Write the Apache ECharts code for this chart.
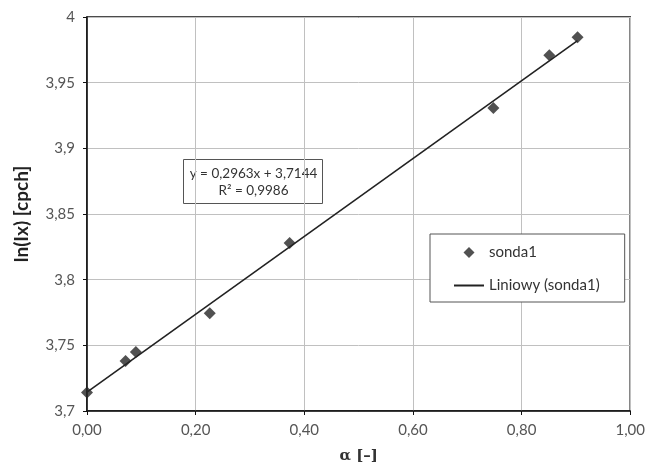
<!DOCTYPE html>
<html>
<head>
<meta charset="utf-8">
<script src="https://cdn.jsdelivr.net/npm/echarts@6/dist/echarts.min.js"></script>
<style>
  html, body { margin: 0; padding: 0; background: #fff; }
  #chart { width: 648px; height: 469px; }
</style>
</head>
<body>
<div id="chart"></div>
<script>
// pomiary sonda1 (odczyt z wykresu)
var alphaValues = [0.00, 0.071, 0.090, 0.226, 0.373, 0.748, 0.851, 0.903];
var lnIxValues = [3.714, 3.738, 3.745, 3.7745, 3.828, 3.9307, 3.9708, 3.9845];
// linia trendu - poczatek i koniec
var trendX = [0.00, 0.903];
var trendY = [3.7144, 3.982];
// osie
var xAxisRange = [0, 1, 0.2];
var yAxisRange = [3.7, 4, 0.05];
var equationText = ['y = 0,2963x + 3,7144', 'R² = 0,9986'];

var font = 'Lato, "Open Sans", sans-serif';
var chart = echarts.init(document.getElementById('chart'));

var pts = alphaValues.map(function (a, i) { return [a, lnIxValues[i]]; });
var trend = trendX.map(function (a, i) { return [a, trendY[i]]; });

var option = {
  animation: false,
  backgroundColor: '#fff',
  grid: {
    left: 87, right: 15, top: 17, bottom: 58,
    show: true, borderColor: '#111', borderWidth: 1.5
  },
  xAxis: {
    type: 'value',
    min: xAxisRange[0], max: xAxisRange[1], interval: xAxisRange[2],
    name: 'α [–]',
    nameLocation: 'middle',
    nameGap: 38,
    nameTextStyle: { fontFamily: '"DejaVu Serif", serif', fontWeight: 'bold', fontSize: 15, color: '#333' },
    axisLine: { lineStyle: { color: '#111', width: 1.5 } },
    axisTick: { show: true, length: 4, lineStyle: { color: '#111' } },
    axisLabel: {
      margin: 12, color: '#555', fontSize: 15, fontFamily: font,
      formatter: function (v) { return v.toFixed(2).replace('.', ','); }
    },
    splitLine: { lineStyle: { color: '#c0c0c0', width: 1 } }
  },
  yAxis: {
    type: 'value',
    min: yAxisRange[0], max: yAxisRange[1], interval: yAxisRange[2],
    name: 'ln(Ix) [cpch]',
    nameLocation: 'middle',
    nameGap: 56,
    nameTextStyle: { fontFamily: font, fontWeight: 'bold', fontSize: 19, color: '#222' },
    axisLine: { show: true, lineStyle: { color: '#111', width: 1.5 } },
    axisTick: { show: true, length: 4, lineStyle: { color: '#111' } },
    axisLabel: {
      margin: 12, color: '#555', fontSize: 15, fontFamily: font,
      formatter: function (v) { return String(+v.toFixed(2)).replace('.', ','); }
    },
    splitLine: { lineStyle: { color: '#c0c0c0', width: 1 } }
  },
  legend: {
    orient: 'vertical',
    left: 430, top: 234,
    padding: [11, 25, 9, 24],
    itemGap: 18,
    itemWidth: 30, itemHeight: 11,
    symbolKeepAspect: true,
    borderColor: '#555', borderWidth: 1,
    backgroundColor: '#fff',
    textStyle: { fontFamily: font, fontSize: 15, color: '#333' },
    data: [
      { name: 'sonda1', icon: 'path://M5,0 L10,5 L5,10 L0,5 Z' },
      { name: 'Liniowy (sonda1)', icon: 'path://M0,0 L30,0 L30,2 L0,2 Z' }
    ]
  },
  graphic: [{
    type: 'group',
    left: 183, top: 159,
    children: [{
      type: 'rect',
      shape: { x: 0, y: 0, width: 139, height: 44 },
      style: { fill: '#fff', stroke: '#555', lineWidth: 1 }
    }, {
      type: 'text',
      style: {
        x: 70, y: 14, text: equationText[0], align: 'center', verticalAlign: 'middle',
        font: '13.5px ' + font, fill: '#333'
      }
    }, {
      type: 'text',
      style: {
        x: 70, y: 31, text: equationText[1], align: 'center', verticalAlign: 'middle',
        font: '13.5px ' + font, fill: '#333'
      }
    }]
  }],
  series: [{
    name: 'Liniowy (sonda1)',
    type: 'line',
    data: trend,
    showSymbol: false,
    lineStyle: { color: '#222', width: 1.6 },
    itemStyle: { color: '#222' },
    z: 2
  }, {
    name: 'sonda1',
    type: 'scatter',
    data: pts,
    symbol: 'diamond',
    symbolSize: 12,
    itemStyle: { color: '#262626' },
    z: 3
  }]
};

chart.setOption(option);
</script>
</body>
</html>
